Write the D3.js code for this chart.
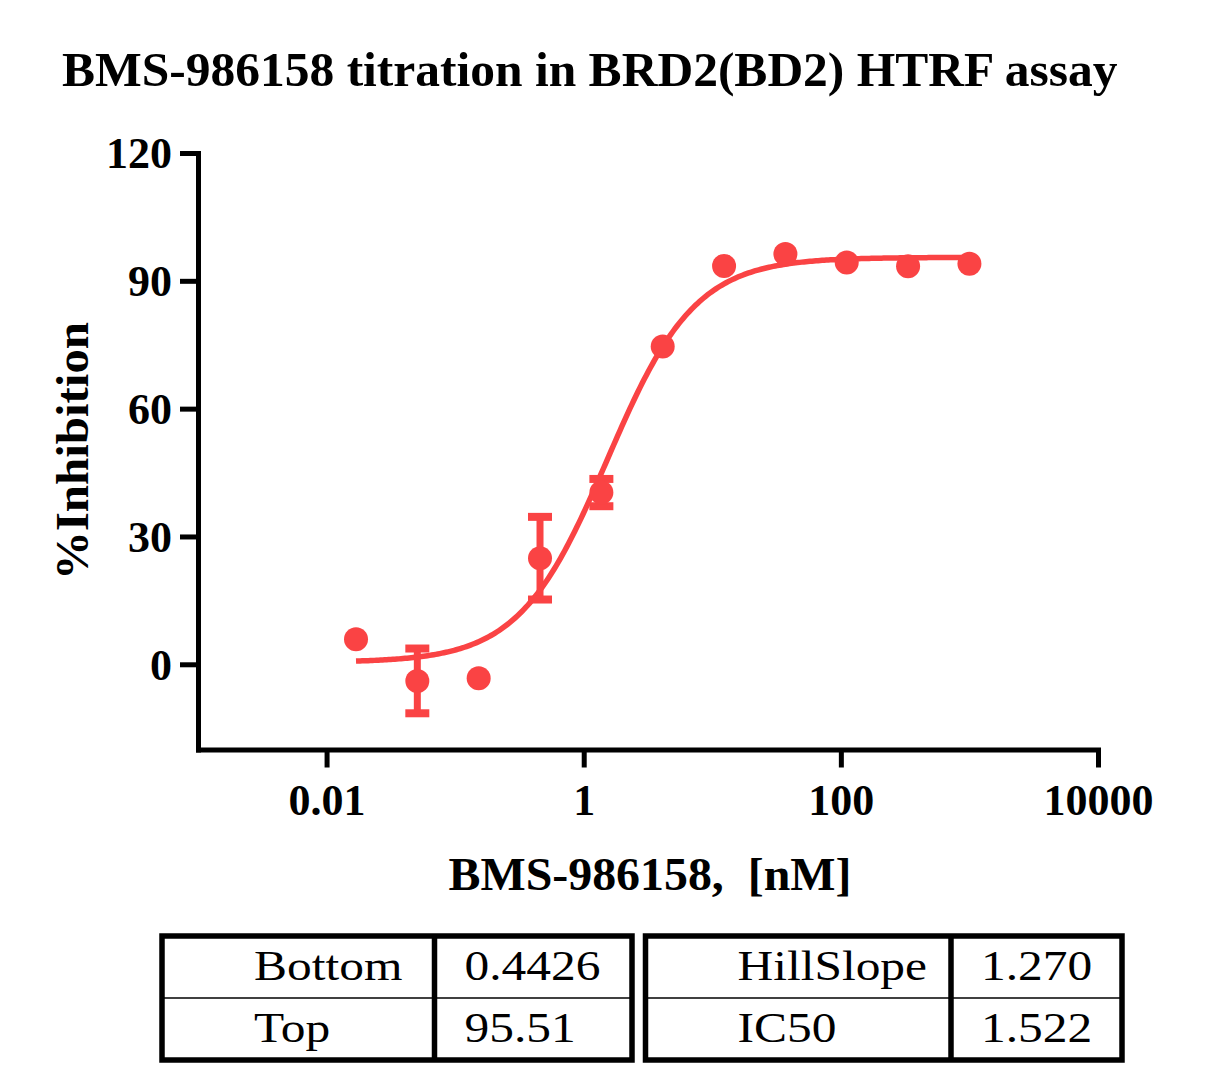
<!DOCTYPE html>
<html><head><meta charset="utf-8">
<script src="https://cdn.jsdelivr.net/npm/d3@7"></script>
<style>
body{margin:0;background:#fff}
svg{display:block}
text{font-family:"Liberation Serif","Times New Roman",serif}
</style>
</head><body>
<svg id="chart" width="1232" height="1091"></svg>
<script>
// ---- data ----
const concentrations = [0.01694, 0.0508, 0.1524, 0.4572, 1.372, 4.115, 12.35, 37.04, 111.1, 333.3, 1000];
const inhibition     = [5.9, -3.9, -3.3, 24.9, 40.3, 74.6, 93.5, 96.3, 94.3, 93.4, 94.0];
const errors         = [0, 7.6, 0, 9.7, 3.2, 0, 0, 0, 0, 0, 0];
const fitBottom = 0.4426, fitTop = 95.51, fitIC50 = 1.522, fitHill = 1.270;
const xTicks = [0.01, 1, 100, 10000];
const xTickLabels = ["0.01", "1", "100", "10000"];
const yTicks = [0, 30, 60, 90, 120];
const leftTableLabels  = ["Bottom", "Top"];
const leftTableValues  = ["0.4426", "95.51"];
const rightTableLabels = ["HillSlope", "IC50"];
const rightTableValues = ["1.270", "1.522"];
const titleText = "BMS-986158 titration in BRD2(BD2) HTRF assay";
const xTitle = "BMS-986158,\u00a0 [nM]";
const yTitle = "%Inhibition";

const RED = "rgb(250,67,68)";
const svg = d3.select("#chart");

const x = d3.scaleLog().domain([0.001, 10000]).range([198, 1098]);
const y = d3.scaleLinear().domain([-20, 120]).range([749.5, 153]);

// title
svg.append("text").attr("x", 62).attr("y", 86)
  .attr("font-size", 49.5).attr("font-weight", "bold").text(titleText);

// axes
const yAxis = d3.axisLeft(y).tickValues(yTicks).tickSize(18).tickSizeOuter(0).tickPadding(8);
const gy = svg.append("g").attr("transform", "translate(198,0)").call(yAxis);
const xAxis = d3.axisBottom(x).tickValues(xTicks).tickFormat((d,i)=>xTickLabels[i]).tickSize(18).tickSizeOuter(0).tickPadding(16);
const gx = svg.append("g").attr("transform", "translate(0,749.5)").call(xAxis);
[gx, gy].forEach(g => {
  g.select(".domain").attr("stroke", "#000").attr("stroke-width", 5).attr("stroke-linecap", "square");
  g.selectAll(".tick line").attr("stroke", "#000").attr("stroke-width", 5);
  g.selectAll(".tick text").attr("fill", "#000").attr("font-size", 44).attr("font-weight", "bold")
   .attr("font-family", '"Liberation Serif","Times New Roman",serif');
});
gy.selectAll(".tick text").attr("dy", "0.34em");

// axis titles
svg.append("text").attr("x", 650).attr("y", 890).attr("text-anchor", "middle")
  .attr("font-size", 46).attr("font-weight", "bold")
  .attr("textLength", 403).attr("lengthAdjust", "spacingAndGlyphs").text(xTitle);
svg.append("text").attr("transform", "translate(88,451) rotate(-90)").attr("text-anchor", "middle")
  .attr("font-size", 46).attr("font-weight", "bold")
  .attr("textLength", 258).attr("lengthAdjust", "spacingAndGlyphs").text(yTitle);

// fitted curve
const logMin = Math.log10(d3.min(concentrations)), logMax = Math.log10(d3.max(concentrations));
const curveX = d3.range(0, 301).map(i => Math.pow(10, logMin + (logMax - logMin) * i / 300));
const fit = c => fitBottom + (fitTop - fitBottom) / (1 + Math.pow(fitIC50 / c, fitHill));
svg.append("path").datum(curveX)
  .attr("d", d3.line().x(c => x(c)).y(c => y(fit(c))))
  .attr("fill", "none").attr("stroke", RED).attr("stroke-width", 5.5);

// error bars
const pts = concentrations.map((c, i) => ({c, v: inhibition[i], e: errors[i]}));
const eb = svg.append("g").attr("stroke", RED).attr("fill", "none");
pts.filter(d => d.e > 0).forEach(d => {
  eb.append("line").attr("x1", x(d.c)).attr("x2", x(d.c)).attr("y1", y(d.v + d.e)).attr("y2", y(d.v - d.e)).attr("stroke-width", 7);
  [d.v + d.e, d.v - d.e].forEach(v => {
    eb.append("line").attr("x1", x(d.c) - 12).attr("x2", x(d.c) + 12).attr("y1", y(v)).attr("y2", y(v)).attr("stroke-width", 8);
  });
});

// points
svg.append("g").selectAll("circle").data(pts).join("circle")
  .attr("cx", d => x(d.c)).attr("cy", d => y(d.v)).attr("r", 12).attr("fill", RED);

// tables
function drawTable(x0, x1, xDiv, labels, values) {
  const g = svg.append("g");
  const top = 936, mid = 998, bot = 1060;
  g.append("rect").attr("x", x0).attr("y", top).attr("width", x1 - x0).attr("height", bot - top)
    .attr("fill", "none").attr("stroke", "#000").attr("stroke-width", 5.5);
  g.append("line").attr("x1", xDiv).attr("x2", xDiv).attr("y1", top).attr("y2", bot).attr("stroke", "#000").attr("stroke-width", 5.5);
  g.append("line").attr("x1", x0).attr("x2", x1).attr("y1", mid).attr("y2", mid).attr("stroke", "#000").attr("stroke-width", 1.5);
  labels.forEach((t, i) => {
    g.append("text").attr("transform", `translate(${x0 + 92},${980 + i * 62}) scale(1.15,1)`)
      .attr("font-size", 43).text(t);
    g.append("text").attr("transform", `translate(${xDiv + 30},${980 + i * 62}) scale(1.15,1)`)
      .attr("font-size", 43).text(values[i]);
  });
}
drawTable(162, 632, 434.5, leftTableLabels, leftTableValues);
drawTable(645.5, 1122, 951, rightTableLabels, rightTableValues);
</script>
</body></html>
